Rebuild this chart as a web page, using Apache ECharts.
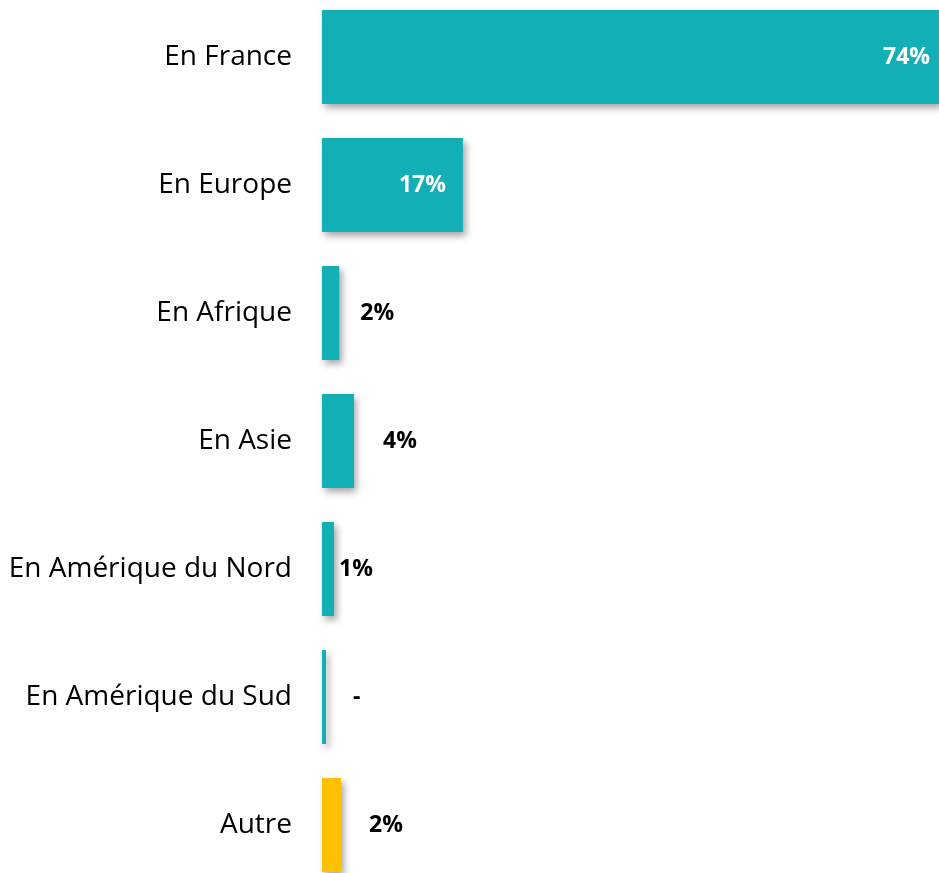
<!DOCTYPE html>
<html>
<head>
<meta charset="utf-8">
<script src="https://cdn.jsdelivr.net/npm/echarts@6/dist/echarts.min.js"></script>
<style>html,body{margin:0;padding:0;background:#fff;overflow:hidden;}#c{width:939px;height:896px;margin-top:-7px;}</style>
</head>
<body>
<div id="c"></div>
<script>
const categories = ["En France", "En Europe", "En Afrique", "En Asie", "En Amérique du Nord", "En Amérique du Sud", "Autre"];
const values = [74, 16.9, 2.07, 3.84, 1.44, 0.48, 2.28];
const valueLabels = ["74%", "17%", "2%", "4%", "1%", "-", "2%"];

const TEAL = "#13AFB6";
const GOLD = "#FFC000";
const labelCfg = [
  {position: "insideRight", distance: 9, color: "#fff"},
  {position: "insideRight", distance: 17, color: "#fff"},
  {position: "right", distance: 21, color: "#000"},
  {position: "right", distance: 29, color: "#000"},
  {position: "right", distance: 5, color: "#000"},
  {position: "right", distance: 27, color: "#000"},
  {position: "right", distance: 28, color: "#000"}
];

const seriesData = values.map((v, i) => ({
  value: v,
  itemStyle: {color: i === values.length - 1 ? GOLD : TEAL},
  label: {
    show: true,
    position: labelCfg[i].position,
    distance: labelCfg[i].distance,
    color: labelCfg[i].color,
    formatter: valueLabels[i],
    fontFamily: "Open Sans",
    fontWeight: "bold",
    fontSize: 23,
    padding: [4, 0, 0, 0]
  }
}));

const chart = echarts.init(document.getElementById("c"));
chart.setOption({
  animation: false,
  grid: {left: 322, right: 0, top: 0, bottom: 0, containLabel: false},
  xAxis: {type: "value", min: 0, max: 74, show: false},
  yAxis: {
    type: "category",
    data: categories,
    inverse: true,
    axisLine: {show: false},
    axisTick: {show: false},
    splitLine: {show: false},
    axisLabel: {margin: 30, color: "#000", fontFamily: "Open Sans", fontSize: 28, padding: [4, 0, 0, 0]}
  },
  series: [{
    type: "bar",
    data: seriesData,
    barWidth: 94,
    itemStyle: {
      shadowColor: "rgba(0,0,0,0.35)",
      shadowBlur: 7,
      shadowOffsetX: 3,
      shadowOffsetY: 4
    }
  }]
});
</script>
</body>
</html>
